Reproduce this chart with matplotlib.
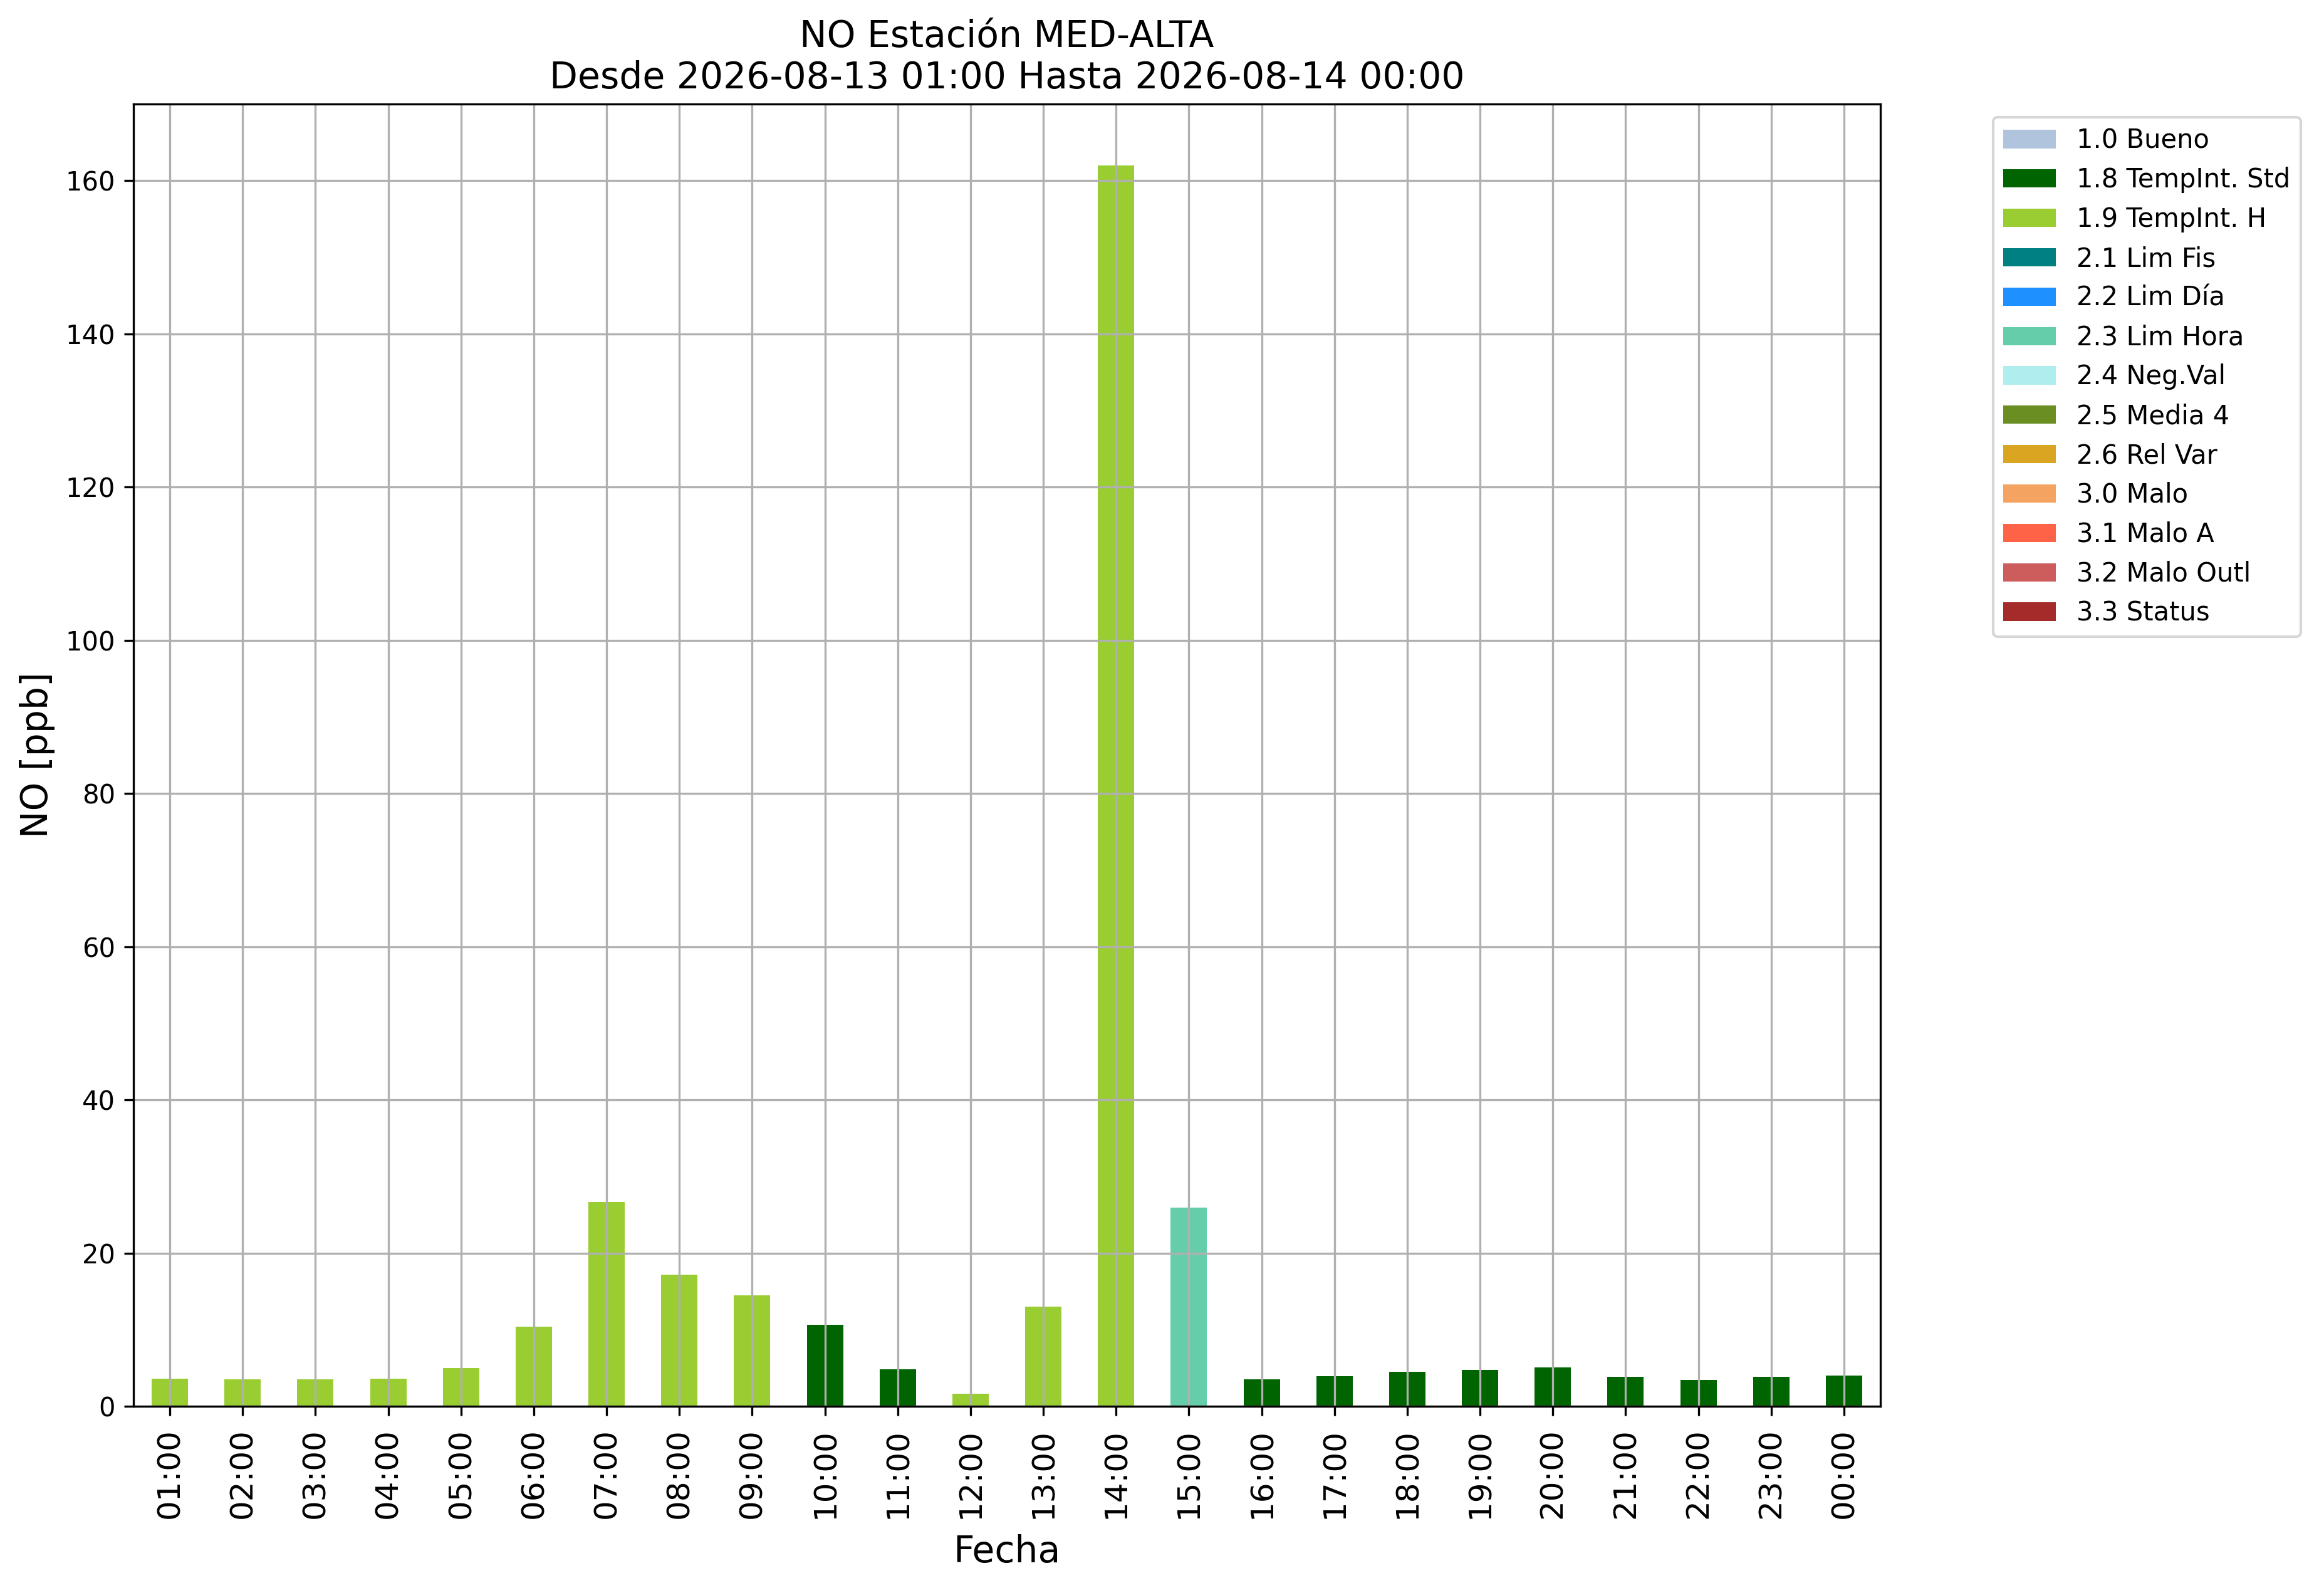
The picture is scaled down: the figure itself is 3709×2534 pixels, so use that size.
import numpy as np
import matplotlib
matplotlib.use('Agg')
import matplotlib.pyplot as plt
from matplotlib.patches import Patch

horas = ['01:00', '02:00', '03:00', '04:00', '05:00', '06:00', '07:00', '08:00',
         '09:00', '10:00', '11:00', '12:00', '13:00', '14:00', '15:00', '16:00',
         '17:00', '18:00', '19:00', '20:00', '21:00', '22:00', '23:00', '00:00']
valores = [3.63, 3.55, 3.55, 3.63, 4.95, 10.4, 26.7, 17.2, 14.5, 10.6, 4.86, 1.67,
           13.0, 162.0, 25.9, 3.55, 3.96, 4.54, 4.78, 5.11, 3.88, 3.47, 3.88, 4.04]
flags = ['1.9', '1.9', '1.9', '1.9', '1.9', '1.9', '1.9', '1.9', '1.9', '1.8', '1.8', '1.9',
         '1.9', '1.9', '2.3', '1.8', '1.8', '1.8', '1.8', '1.8', '1.8', '1.8', '1.8', '1.8']

etiquetas = ['1.0 Bueno', '1.8 TempInt. Std', '1.9 TempInt. H', '2.1 Lim Fis', '2.2 Lim Día',
             '2.3 Lim Hora', '2.4 Neg.Val', '2.5 Media 4', '2.6 Rel Var', '3.0 Malo',
             '3.1 Malo A', '3.2 Malo Outl', '3.3 Status']
colores = ['lightsteelblue', 'darkgreen', 'yellowgreen', 'teal', 'dodgerblue',
           'mediumaquamarine', 'paleturquoise', 'olivedrab', 'goldenrod', 'sandybrown',
           'tomato', 'indianred', 'brown']

color_flag = {e.split()[0]: c for e, c in zip(etiquetas, colores)}

fig = plt.figure(figsize=(3709/300, 2534/300), dpi=300)
ax = fig.add_axes([213/3709, 1-2244/2534, (3001-213)/3709, (2244-166)/2534])

x = np.arange(len(horas))
ax.bar(x, valores, width=0.5, color=[color_flag[f] for f in flags])

ax.set_xlim(-0.5, len(horas)-0.5)
ax.set_ylim(0, 170)
ax.set_xticks(x)
ax.set_xticklabels(horas, rotation=90, fontsize=12)
ax.tick_params(axis='x', pad=5)
ax.tick_params(axis='y', labelsize=10)
ax.grid(True)
ax.set_xlabel('Fecha', fontsize=14, labelpad=6)
ax.set_ylabel('NO [ppb]', fontsize=14)
ax.set_title('NO Estación MED-ALTA\nDesde 2026-08-13 01:00 Hasta 2026-08-14 00:00', fontsize=14)

handles = [Patch(facecolor=c, label=e) for e, c in zip(etiquetas, colores)]
ax.legend(handles=handles, bbox_to_anchor=(1.057, 1), loc='upper left', fontsize=10)

fig.savefig('out.png', dpi=300)
